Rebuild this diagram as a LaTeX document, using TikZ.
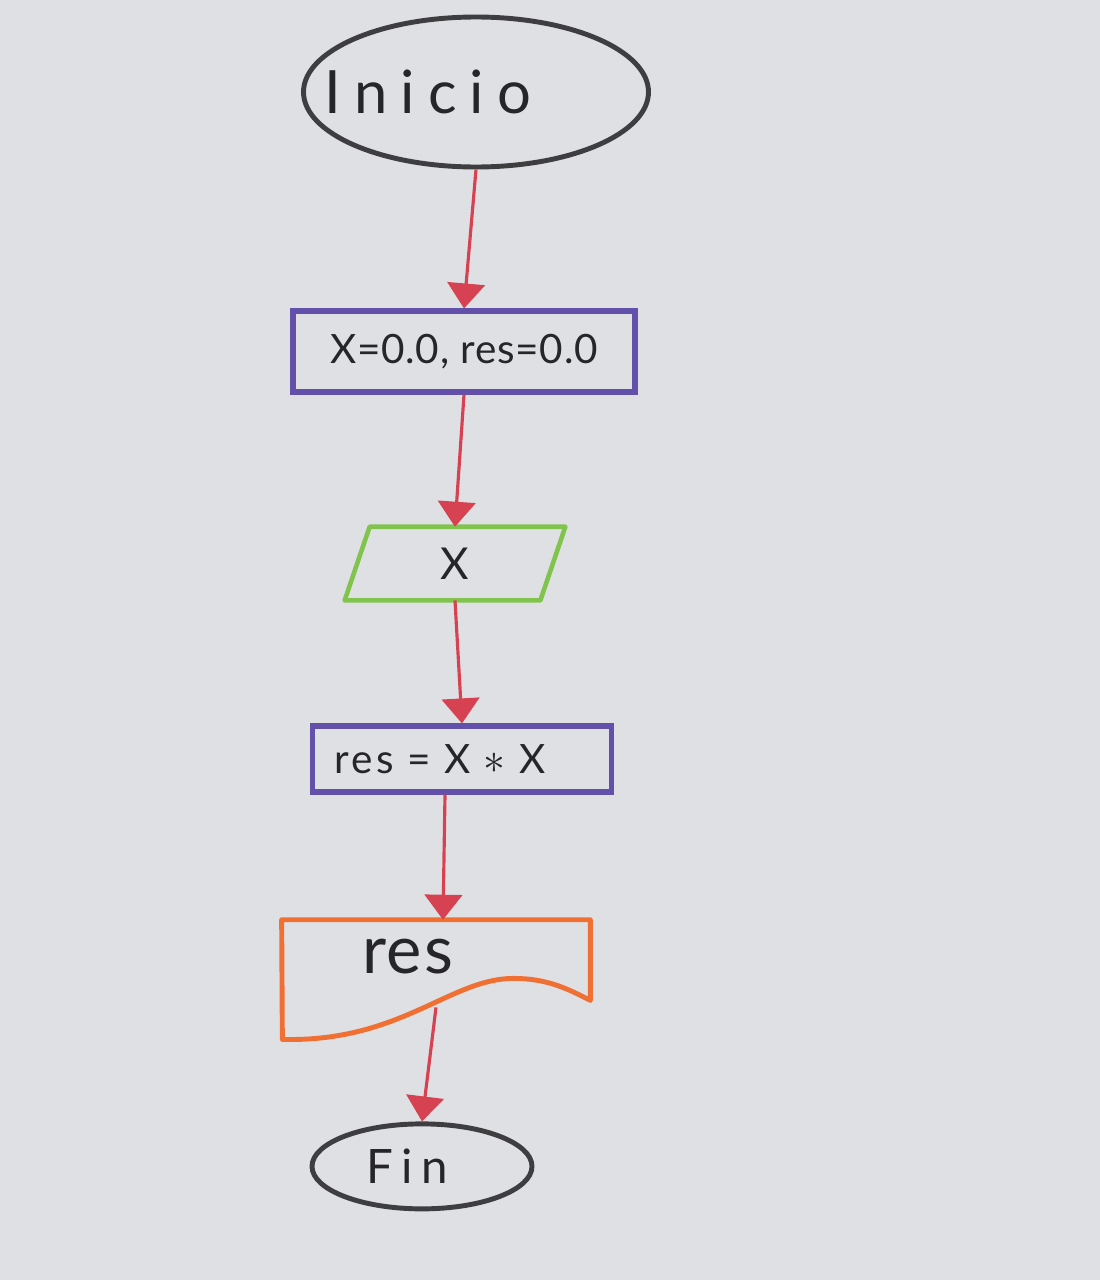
\documentclass[tikz,border=0pt]{standalone}
\usepackage{fontspec}
\setsansfont{Lato}
\usetikzlibrary{positioning,shapes.geometric,arrows.meta}

\definecolor{paper}{RGB}{223,224,228}
\definecolor{ink}{RGB}{38,38,40}
\definecolor{inkgray}{RGB}{62,62,64}
\definecolor{boxpurple}{RGB}{98,80,170}
\definecolor{inputgreen}{RGB}{128,196,78}
\definecolor{docorange}{RGB}{240,112,52}
\definecolor{arrowred}{RGB}{214,66,82}

\begin{document}
\begin{tikzpicture}[font=\sffamily]
    \tikzstyle{term}   = [shape=ellipse, draw=inkgray, line width=2.8pt, text=ink]
    \tikzstyle{proc}   = [shape=rectangle, draw=boxpurple, line width=3pt, text=ink, inner ysep=0.1cm]
    \tikzstyle{iobox}  = [shape=rectangle, text=ink, minimum width=4.4cm, minimum height=1.46cm, inner sep=0pt]
    \tikzstyle{docbox} = [shape=rectangle, text=ink, minimum width=6.16cm, minimum height=1.44cm,
                          text width=2.96cm, inner xsep=1.6cm, inner ysep=0.1cm, align=left]
    \tikzstyle{flow}   = [draw=arrowred, line width=1.8pt, -{Triangle[length=0.5cm, width=0.75cm]}]

    \fill[paper] (0,0) rectangle (22,-25.6);
    \useasboundingbox (0,0) rectangle (22,-25.6);

    \node (inicio) [term, minimum width=6.9cm, minimum height=3cm,
                    label={[text=ink, xshift=-0.96cm, font=\sffamily\fontsize{34}{40}\selectfont\addfontfeature{LetterSpace=22}]center:Inicio}]
                    at (9.52,-1.84) {};
    \node (init)   [proc, minimum width=6.84cm, minimum height=1.62cm,
                    font=\sffamily\fontsize{23}{26}\selectfont\addfontfeature{LetterSpace=2}]
                    [below=2.78cm of inicio, xshift=-0.24cm] {X=0.0, res=0.0};
    \node (input)  [iobox, font=\sffamily\fontsize{25}{30}\selectfont]
                    [below=2.64cm of init, xshift=-0.18cm] {X};
    \node (calc)   [proc, minimum height=1.32cm, text width=5.1cm, inner xsep=0.44cm, align=left,
                    font=\sffamily\fontsize{23}{26}\selectfont\addfontfeature{LetterSpace=8}]
                    [below=2.46cm of input, xshift=0.14cm] {res = X $\ast$ X};
    \node (output) [docbox, font=\sffamily\fontsize{38}{44}\selectfont\addfontfeature{LetterSpace=3}]
                    [below=2.5cm of calc, xshift=-0.52cm] {res};
    \node (fin)    [term, minimum width=4.4cm, minimum height=1.7cm,
                    label={[text=ink, xshift=-0.3cm, font=\sffamily\fontsize{27}{32}\selectfont\addfontfeature{LetterSpace=18}]center:Fin}]
                    [below=2.58cm of output, xshift=-0.28cm] {};

    % entrada y salida
    \draw [inputgreen, line width=2.6pt, line join=round]
        ([xshift=0.5cm]input.north west) -- (input.north east)
        -- ([xshift=-0.5cm]input.south east) -- (input.south west) -- cycle;
    \draw [docorange, line width=2.8pt, line join=round]
        (output.north west) -- (output.north east) -- ([yshift=-0.16cm]output.south east)
        .. controls +(-0.5,0.26) and +(0.64,0) .. ++(-1.54,0.44)
        .. controls +(-1.26,0) and +(2.36,-0.06) .. ++(-4.62,-1.22) -- cycle;

    % flechas
    \draw [flow] (inicio.south) -- (init.north);
    \draw [flow] (init.south) -- (input.north);
    \draw [flow] (input.south) -- (calc.north);
    \draw [flow] ([xshift=-0.34cm]calc.south) -- ([xshift=0.14cm]output.north);
    \draw [flow] ([yshift=-0.3cm]output.south) -- (fin.north);
\end{tikzpicture}
\end{document}
